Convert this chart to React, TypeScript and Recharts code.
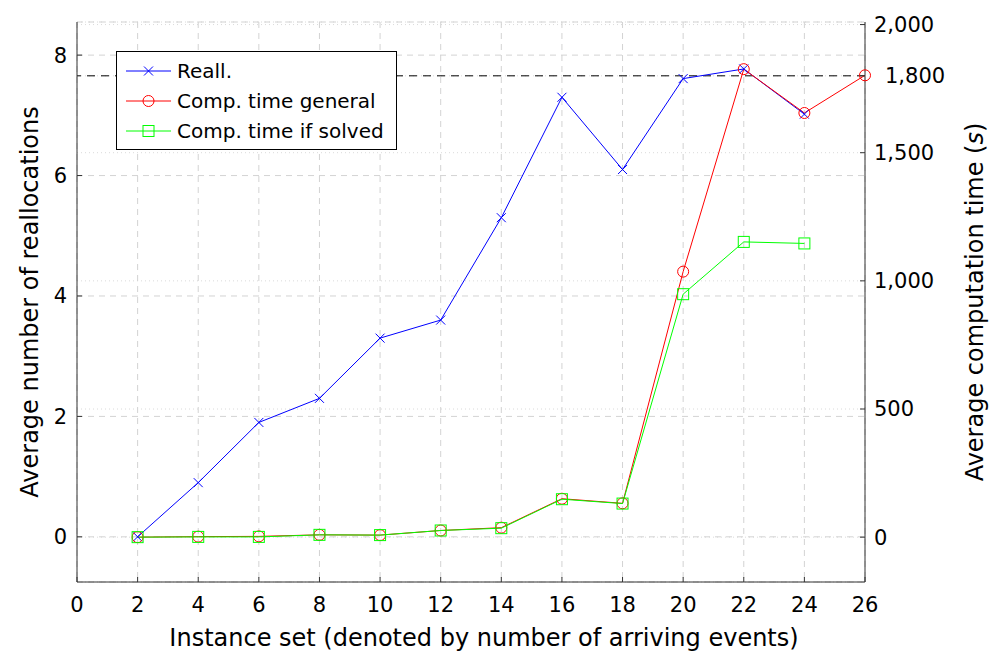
import { CartesianGrid, ComposedChart, Legend, Line, ReferenceLine, XAxis, YAxis } from "recharts";

const instanceSets = [2, 4, 6, 8, 10, 12, 14, 16, 18, 20, 22, 24, 26];
const reallocations = [0, 0.9, 1.9, 2.3, 3.3, 3.6, 5.3, 7.3, 6.1, 7.61, 7.77, 7.02, null];
const compTimeGeneral = [0, 2, 3, 9, 8, 26, 37, 150, 132, 1036, 1826, 1655, 1802];
const compTimeSolved = [0, 1, 1, 9, 8, 26, 35, 148, 131, 948, 1152, 1146, null];

const xTicks = [0, 2, 4, 6, 8, 10, 12, 14, 16, 18, 20, 22, 24, 26];
const leftTicks = [0, 2, 4, 6, 8];
const rightTicks = [0, 500, 1000, 1500, 1800, 2000];
const timeLimit = 1800;

const data = instanceSets.map((x, i) => ({
  x,
  reall: reallocations[i],
  general: compTimeGeneral[i],
  solved: compTimeSolved[i],
}));

const FONT = "DejaVu Sans, sans-serif";
const BLUE = "#0000ff";
const RED = "#ff0000";
const GREEN = "#00ff00";
const AXIS = "#333";

const Cross = (props: any) => {
  const { cx, cy } = props;
  if (cx == null || cy == null) return null;
  const s = 4.5;
  return (
    <path
      d={`M${cx - s},${cy - s}L${cx + s},${cy + s}M${cx - s},${cy + s}L${cx + s},${cy - s}`}
      stroke={BLUE}
      strokeWidth={1}
      fill="none"
    />
  );
};

const Ring = (props: any) => {
  const { cx, cy } = props;
  if (cx == null || cy == null) return null;
  return <circle cx={cx} cy={cy} r={5.5} stroke={RED} strokeWidth={1} fill="none" />;
};

const Square = (props: any) => {
  const { cx, cy } = props;
  if (cx == null || cy == null) return null;
  return <rect x={cx - 5.5} y={cy - 5.5} width={11} height={11} stroke={GREEN} strokeWidth={1} fill="none" />;
};

const legendItems = [
  { label: "Reall.", color: BLUE, mark: "x" },
  { label: "Comp. time general", color: RED, mark: "o" },
  { label: "Comp. time if solved", color: GREEN, mark: "s" },
];

const renderLegend = () => (
  <div
    style={{
      border: "1px solid #000",
      background: "#fff",
      padding: "4px 0 4px 8px",
      fontFamily: FONT,
      fontSize: 20,
      boxSizing: "border-box",
      width: 281,
      height: 99,
    }}
  >
    {legendItems.map((it) => (
      <div key={it.label} style={{ display: "flex", alignItems: "center", height: 30 }}>
        <svg width={52} height={20} style={{ flex: "none" }}>
          <line x1={1} y1={10} x2={46} y2={10} stroke={it.color} />
          {it.mark === "x" && <Cross cx={23.5} cy={10} />}
          {it.mark === "o" && <Ring cx={23.5} cy={10} />}
          {it.mark === "s" && <Square cx={23.5} cy={10} />}
        </svg>
        <span style={{ color: "#000", whiteSpace: "nowrap" }}>{it.label}</span>
      </div>
    ))}
  </div>
);

const RightTick = (props: any) => {
  const { x, y, payload } = props;
  const shift = payload.value === timeLimit ? 11 : 0;
  return (
    <text x={x + shift} y={y} dy="0.355em" textAnchor="start" fontFamily={FONT} fontSize={21} fill="#000">
      {payload.value.toLocaleString("en-US")}
    </text>
  );
};

const LeftTitle = (props: any) => {
  const { viewBox } = props;
  const cy = viewBox.y + viewBox.height / 2;
  return (
    <text x={30} y={cy} transform={`rotate(-90 30 ${cy})`} textAnchor="middle" dominantBaseline="central" fontFamily={FONT} fontSize={24} fill="#000">
      Average number of reallocations
    </text>
  );
};

const RightTitle = (props: any) => {
  const { viewBox } = props;
  const cy = viewBox.y + viewBox.height / 2;
  return (
    <text x={975} y={cy} transform={`rotate(-90 975 ${cy})`} textAnchor="middle" dominantBaseline="central" fontFamily={FONT} fontSize={24} fill="#000">
      Average computation time (<tspan fontStyle="italic">s</tspan>)
    </text>
  );
};

const BottomTitle = (props: any) => {
  const { viewBox } = props;
  const cx = viewBox.x + viewBox.width / 2 + 13;
  return (
    <text x={cx} y={638} textAnchor="middle" dominantBaseline="central" fontFamily={FONT} fontSize={24} fill="#000">
      Instance set (denoted by number of arriving events)
    </text>
  );
};

export default function App() {
  return (
    <div style={{ position: "absolute", left: 0, top: 0, background: "#fff" }}>
      <ComposedChart width={995} height={653} data={data} margin={{ top: 22, right: 0, bottom: 0, left: 0 }}>
        <CartesianGrid yAxisId="right" horizontal vertical={false} stroke="#dadada" strokeDasharray="1 3" />
        <CartesianGrid yAxisId="left" stroke="#d3d3d3" strokeDasharray="6 5" />
        <XAxis
          dataKey="x"
          type="number"
          domain={[0, 26]}
          ticks={xTicks}
          interval={0}
          height={71}
          stroke={AXIS}
          tickSize={-5}
          tickMargin={20}
          tick={{ fontFamily: FONT, fontSize: 21, fill: "#000" }}
          label={<BottomTitle />}
        />
        <XAxis
          xAxisId="top"
          dataKey="x"
          type="number"
          orientation="top"
          domain={[0, 26]}
          ticks={xTicks}
          interval={0}
          height={0}
          mirror
          stroke={AXIS}
          tickSize={5}
          tickFormatter={() => ""}
        />
        <YAxis
          yAxisId="left"
          type="number"
          domain={[-0.75, 8.55]}
          ticks={leftTicks}
          interval={0}
          width={77}
          stroke={AXIS}
          tickSize={-5}
          tickMargin={15}
          tick={{ fontFamily: FONT, fontSize: 21, fill: "#000" }}
          label={<LeftTitle />}
        />
        <YAxis
          yAxisId="right"
          orientation="right"
          type="number"
          domain={[-175, 2010]}
          ticks={rightTicks}
          interval={0}
          width={130}
          stroke={AXIS}
          tickSize={-5}
          tickMargin={14}
          tick={<RightTick />}
          label={<RightTitle />}
        />
        <ReferenceLine yAxisId="right" y={timeLimit} stroke="#000" strokeDasharray="8 6" strokeWidth={1} />
        <Line
          yAxisId="left"
          dataKey="reall"
          name="Reall."
          stroke={BLUE}
          strokeWidth={1}
          dot={<Cross />}
          isAnimationActive={false}
          connectNulls={false}
        />
        <Line
          yAxisId="right"
          dataKey="general"
          name="Comp. time general"
          stroke={RED}
          strokeWidth={1}
          dot={<Ring />}
          isAnimationActive={false}
        />
        <Line
          yAxisId="right"
          dataKey="solved"
          name="Comp. time if solved"
          stroke={GREEN}
          strokeWidth={1}
          dot={<Square />}
          isAnimationActive={false}
        />
        <Legend
          layout="vertical"
          align="center"
          verticalAlign="middle"
          content={renderLegend}
          wrapperStyle={{ left: 116, top: 51, width: 281, height: 99 }}
        />
      </ComposedChart>
    </div>
  );
}
